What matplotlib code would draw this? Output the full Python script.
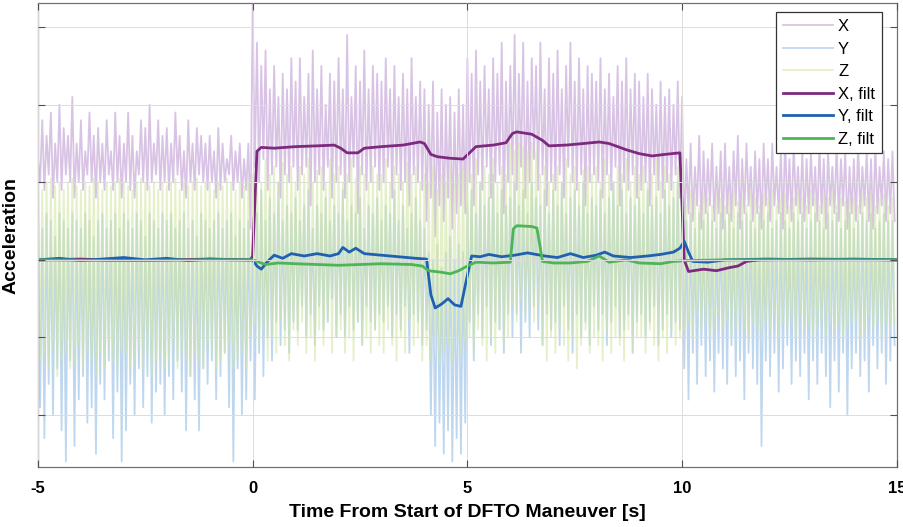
import numpy as np
import matplotlib
matplotlib.use("Agg")
import matplotlib.pyplot as plt

plt.rcParams['font.family'] = ['Liberation Sans', 'DejaVu Sans']
plt.rcParams['axes.unicode_minus'] = False

# raw samples: one peak and one trough per 0.1 s, from -5 s to 15 s (rows = 1 s)
x_hi = [1.3, 1.8, 1.6, 1.9, 1.5, 2.0, 1.7, 1.6, 2.1, 1.5,
        1.8, 1.4, 1.9, 1.6, 1.7, 1.5, 1.8, 1.4, 1.9, 1.6,
        1.5, 1.9, 1.6, 1.4, 1.8, 1.7, 2.0, 1.5, 1.8, 1.6,
        1.7, 1.5, 1.9, 1.6, 1.4, 1.8, 1.5, 1.7, 1.6, 1.5,
        1.6, 1.4, 1.7, 1.5, 1.3, 1.6, 1.4, 1.5, 1.3, 1.5,
        3.3, 2.8, 2.5, 2.7, 2.2, 2.5, 2.1, 2.4, 2.2, 2.6,
        2.3, 2.6, 2.1, 2.4, 2.7, 2.2, 2.5, 2.0, 2.4, 2.3,
        2.6, 2.2, 2.9, 2.1, 2.5, 2.3, 2.7, 2.2, 2.5, 2.4,
        2.3, 2.6, 2.2, 2.5, 2.1, 2.4, 2.2, 2.6, 2.1, 2.3,
        2.2, 2.0, 2.3, 1.9, 2.2, 2.0, 2.1, 1.9, 2.2, 2.0,
        2.6, 2.4, 2.7, 2.3, 2.5, 2.2, 2.6, 2.4, 2.8, 2.3,
        2.5, 2.9, 2.4, 2.8, 2.3, 2.6, 2.5, 2.8, 2.2, 2.6,
        2.4, 2.7, 2.2, 2.5, 2.8, 2.3, 2.6, 2.2, 2.5, 2.4,
        2.3, 2.6, 2.2, 2.4, 2.1, 2.5, 2.3, 2.6, 2.2, 2.4,
        2.3, 2.1, 2.4, 2.2, 2.0, 2.3, 2.1, 2.2, 2.0, 2.3,
        2.1, 1.3, 1.5, 1.2, 1.6, 1.4, 1.3, 1.5, 1.2, 1.4,
        1.5, 1.2, 1.4, 1.6, 1.3, 1.5, 1.2, 1.4, 1.3, 1.5,
        1.3, 1.5, 1.2, 1.4, 1.6, 1.3, 1.5, 1.2, 1.4, 1.3,
        1.4, 1.2, 1.5, 1.3, 1.4, 1.2, 1.5, 1.3, 1.4, 1.2,
        1.3, 1.5, 1.2, 1.4, 1.3, 1.5, 1.2, 1.4, 1.3, 1.4]
x_lo = [1.0, 0.9, 1.1, 0.8, 1.0, 0.9, 1.1, 1.0, 0.8, 1.0,
        0.9, 1.1, 1.0, 0.8, 1.0, 0.9, 1.1, 0.9, 1.0, 0.8,
        1.0, 0.9, 0.8, 1.1, 1.0, 0.9, 1.0, 1.1, 0.9, 1.0,
        0.9, 1.0, 1.1, 0.9, 0.8, 1.0, 0.9, 1.1, 1.0, 0.9,
        1.0, 0.8, 0.9, 1.0, 1.1, 0.9, 1.0, 0.8, 0.9, 0.4,
        1.2, 1.0, 1.3, 0.9, 1.1, 1.2, 0.8, 1.1, 1.0, 1.2,
        0.9, 1.1, 1.2, 0.7, 1.0, 1.1, 0.9, 1.2, 0.8, 1.0,
        1.1, 0.8, 1.0, 1.2, 0.6, 1.1, 0.9, 1.0, 1.2, 0.9,
        1.0, 1.2, 0.8, 1.1, 0.9, 1.0, 0.7, 1.1, 1.0, 0.9,
        0.5, 0.8, 0.3, 0.7, 0.5, 0.8, 0.4, 0.6, 0.7, 0.6,
        1.0, 0.7, 1.1, 0.9, 1.2, 0.8, 1.0, 1.1, 0.6, 1.0,
        1.1, 0.9, 1.2, 0.8, 1.0, 1.3, 0.9, 1.1, 0.7, 1.0,
        0.9, 1.1, 0.8, 1.2, 1.0, 0.9, 1.1, 0.7, 1.0, 1.1,
        1.0, 0.8, 1.1, 0.9, 1.2, 0.7, 1.0, 0.9, 1.1, 0.8,
        0.9, 1.0, 0.7, 1.1, 0.9, 0.8, 1.0, 0.9, 1.1, 0.8,
        0.3, 0.6, 0.5, 0.7, 0.4, 0.6, 0.7, 0.5, 0.6, 0.4,
        0.6, 0.5, 0.7, 0.4, 0.6, 0.7, 0.5, 0.6, 0.4, 0.7,
        0.5, 0.7, 0.6, 0.4, 0.6, 0.5, 0.7, 0.6, 0.5, 0.6,
        0.7, 0.5, 0.6, 0.4, 0.7, 0.6, 0.5, 0.7, 0.4, 0.6,
        0.5, 0.6, 0.7, 0.5, 0.4, 0.6, 0.7, 0.5, 0.6, 0.5]

y_hi = [0.5, 0.4, 0.6, 0.5, 0.3, 0.6, 0.5, 0.4, 0.6, 0.5,
        0.4, 0.6, 0.5, 0.3, 0.5, 0.6, 0.4, 0.5, 0.6, 0.4,
        0.6, 0.5, 0.4, 0.6, 0.5, 0.3, 0.6, 0.5, 0.4, 0.6,
        0.5, 0.6, 0.4, 0.5, 0.6, 0.4, 0.5, 0.3, 0.6, 0.5,
        0.4, 0.5, 0.6, 0.4, 0.5, 0.6, 0.3, 0.5, 0.4, 0.5,
        0.2, 0.6, 0.9, 0.5, 0.8, 0.6, 1.0, 0.5, 0.7, 0.6,
        0.8, 0.5, 0.7, 0.9, 0.4, 0.7, 0.6, 0.8, 0.5, 0.7,
        0.6, 0.9, 0.5, 0.7, 0.6, 0.8, 0.4, 0.7, 0.6, 0.8,
        0.5, 0.7, 0.6, 0.9, 0.5, 0.7, 0.4, 0.6, 0.8, 0.5,
        0.4, 0.1, 0.0, 0.2, -0.1, 0.1, 0.3, 0.0, 0.2, 0.1,
        0.7, 0.9, 0.6, 1.0, 0.7, 0.8, 1.1, 0.6, 0.9, 0.7,
        0.8, 1.0, 0.7, 0.9, 0.6, 1.0, 0.8, 0.7, 0.9, 0.6,
        0.9, 0.7, 1.0, 0.6, 0.8, 0.9, 0.7, 1.0, 0.6, 0.8,
        0.7, 0.9, 0.6, 0.8, 1.0, 0.7, 0.9, 0.6, 0.8, 0.7,
        0.8, 0.6, 0.9, 0.7, 0.8, 0.6, 0.9, 0.7, 0.8, 1.0,
        0.6, 0.5, 0.6, 0.4, 0.6, 0.5, 0.6, 0.5, 0.4, 0.6,
        0.5, 0.6, 0.4, 0.6, 0.5, 0.6, 0.5, 0.4, 0.6, 0.5,
        0.6, 0.4, 0.5, 0.6, 0.5, 0.4, 0.6, 0.5, 0.6, 0.4,
        0.5, 0.6, 0.5, 0.4, 0.6, 0.5, 0.6, 0.4, 0.5, 0.6,
        0.4, 0.5, 0.6, 0.5, 0.6, 0.4, 0.5, 0.6, 0.5, 0.5]
y_lo = [-1.9, -2.3, -1.6, -2.0, -1.4, -2.2, -2.6, -1.3, -2.4, -1.8,
        -1.5, -2.1, -1.9, -2.5, -1.6, -1.8, -1.3, -2.3, -1.7, -2.6,
        -2.2, -1.6, -2.0, -1.4, -1.9, -1.5, -2.1, -1.7, -1.6, -2.0,
        -1.5, -1.8, -1.3, -1.7, -2.2, -1.5, -1.8, -2.2, -1.4, -1.6,
        -1.3, -1.8, -1.5, -1.2, -1.9, -2.6, -1.4, -2.0, -1.8, -1.3,
        -1.8, -1.2, -1.5, -1.0, -1.3, -0.8, -1.1, -0.9, -1.2, -0.8,
        -0.9, -0.6, -1.0, -0.7, -1.1, -0.6, -0.9, -0.8, -0.5, -1.0,
        -0.7, -1.0, -0.6, -0.9, -0.8, -1.1, -0.6, -0.8, -0.9, -0.7,
        -0.8, -0.6, -1.0, -0.7, -0.9, -0.6, -1.2, -0.7, -0.8, -1.1,
        -0.9, -2.0, -2.4, -2.1, -2.5, -2.2, -2.6, -2.3, -2.5, -2.1,
        -0.8, -1.3, -0.7, -1.0, -0.6, -1.1, -0.8, -0.9, -1.2, -0.7,
        -1.0, -0.7, -1.2, -0.8, -1.0, -0.6, -0.9, -1.1, -0.7, -0.9,
        -0.8, -1.1, -0.6, -0.9, -1.2, -0.7, -1.0, -0.8, -1.1, -0.6,
        -0.9, -0.7, -1.1, -0.8, -0.6, -1.0, -0.9, -0.7, -1.2, -0.8,
        -0.7, -1.0, -0.8, -0.6, -1.1, -0.9, -0.7, -1.0, -0.8, -0.9,
        -1.4, -1.8, -1.2, -1.6, -1.1, -1.5, -1.3, -1.7, -1.2, -1.4,
        -1.6, -1.1, -1.5, -1.3, -1.8, -1.2, -1.4, -1.6, -2.4, -1.3,
        -1.5, -1.2, -1.7, -1.4, -1.1, -1.6, -1.3, -1.5, -1.2, -1.8,
        -1.3, -1.6, -1.2, -1.5, -1.9, -1.3, -1.7, -1.2, -2.0, -1.4,
        -1.2, -1.5, -1.3, -1.7, -1.1, -1.4, -1.2, -1.6, -1.3, -1.1]

z_hi = [1.0, 0.9, 1.0, 1.05, 0.95, 1.0, 0.9, 1.0, 1.05, 0.95,
        0.9, 1.0, 0.95, 1.05, 1.0, 0.9, 1.0, 0.95, 1.0, 1.05,
        1.0, 0.95, 0.9, 1.0, 1.05, 1.0, 0.95, 1.0, 0.9, 1.0,
        0.95, 1.0, 1.05, 0.9, 1.0, 0.95, 1.0, 1.05, 0.95, 1.0,
        1.0, 0.9, 1.0, 0.95, 1.05, 1.0, 0.9, 1.0, 0.95, 1.0,
        1.1, 1.2, 1.0, 1.3, 1.1, 1.2, 1.0, 1.25, 1.1, 1.2,
        1.0, 1.2, 1.1, 1.3, 1.0, 1.15, 1.2, 1.0, 1.3, 1.1,
        1.2, 1.0, 1.1, 1.3, 1.05, 1.2, 1.1, 1.0, 1.2, 1.1,
        1.1, 1.3, 1.0, 1.2, 1.1, 1.0, 1.25, 1.1, 1.2, 1.0,
        1.1, 1.0, 1.2, 0.9, 1.1, 1.0, 1.2, 1.0, 1.1, 1.2,
        1.2, 1.1, 1.3, 1.0, 1.2, 1.1, 1.3, 1.0, 1.2, 1.1,
        1.5, 1.4, 1.5, 1.45, 1.4, 1.5, 1.4, 1.1, 1.2, 1.0,
        1.1, 1.2, 1.0, 1.3, 1.1, 1.2, 1.0, 1.15, 1.2, 1.1,
        1.2, 1.0, 1.3, 1.1, 1.0, 1.2, 1.1, 1.3, 1.0, 1.2,
        1.1, 1.2, 1.0, 1.1, 1.3, 1.0, 1.2, 1.1, 1.0, 1.2,
        0.8, 0.7, 0.9, 0.8, 0.7, 0.85, 0.8, 0.7, 0.9, 0.8,
        0.7, 0.8, 0.9, 0.75, 0.8, 0.7, 0.9, 0.8, 0.7, 0.85,
        0.8, 0.9, 0.7, 0.8, 0.85, 0.7, 0.8, 0.9, 0.8, 0.7,
        0.9, 0.8, 0.7, 0.85, 0.8, 0.9, 0.7, 0.8, 0.75, 0.8,
        0.8, 0.7, 0.85, 0.8, 0.9, 0.7, 0.8, 0.85, 0.7, 0.8]
z_lo = [-1.3, -1.2, -1.4, -1.1, -1.5, -1.3, -1.2, -1.4, -1.3, -1.1,
        -1.4, -1.2, -1.3, -1.5, -1.2, -1.4, -1.1, -1.3, -1.4, -1.2,
        -1.2, -1.4, -1.3, -1.1, -1.4, -1.2, -1.5, -1.3, -1.2, -1.4,
        -1.3, -1.1, -1.4, -1.2, -1.3, -1.5, -1.2, -1.3, -1.4, -1.1,
        -1.2, -1.4, -1.3, -1.2, -1.1, -1.4, -1.3, -1.2, -1.4, -1.0,
        -0.8, -1.1, -0.9, -1.3, -1.0, -1.2, -0.8, -1.1, -1.3, -0.9,
        -1.1, -0.8, -1.2, -1.0, -1.3, -0.9, -1.1, -0.8, -1.2, -1.0,
        -0.9, -1.2, -1.0, -1.3, -0.8, -1.1, -1.0, -1.2, -0.9, -1.1,
        -1.2, -0.9, -1.1, -1.3, -1.0, -1.2, -0.8, -1.1, -1.0, -1.3,
        -1.1, -1.3, -1.0, -1.35, -1.2, -1.1, -1.3, -1.0, -1.2, -1.1,
        -1.0, -1.2, -0.9, -1.1, -1.3, -1.0, -1.2, -0.9, -1.1, -1.0,
        -0.6, -0.8, -0.5, -0.7, -0.6, -0.8, -0.6, -1.1, -1.3, -1.0,
        -1.2, -0.9, -1.1, -1.3, -1.0, -1.4, -1.1, -0.9, -1.2, -1.0,
        -1.1, -1.3, -0.9, -1.2, -1.0, -1.1, -1.3, -0.9, -1.2, -1.0,
        -1.0, -1.2, -0.9, -1.1, -1.3, -1.0, -1.2, -0.9, -1.1, -1.0,
        -0.9, -0.8, -1.0, -0.7, -0.9, -0.8, -1.0, -0.9, -0.7, -0.9,
        -0.8, -1.0, -0.9, -0.7, -0.9, -1.0, -0.8, -0.9, -1.0, -0.8,
        -0.9, -0.7, -1.0, -0.8, -0.9, -0.8, -1.0, -0.7, -0.9, -0.8,
        -1.0, -0.9, -0.8, -1.0, -0.7, -0.9, -0.8, -1.0, -0.9, -0.8,
        -0.8, -1.0, -0.9, -0.7, -0.9, -0.8, -1.0, -0.8, -0.9, -0.8]

# filtered signals, read as (time, value) breakpoints
xf_t = [-5, -4, -3, -2, -1, -0.05, 0.0, 0.1, 0.2, 0.5, 1.0, 1.5, 1.9, 2.05, 2.2, 2.45, 2.6, 3.0,
        3.5, 3.9, 4.0, 4.15, 4.3, 4.6, 4.9, 5.05, 5.2, 5.6, 5.9, 6.05, 6.15, 6.5, 6.75, 6.9,
        7.3, 7.7, 8.07, 8.3, 8.7, 9.0, 9.3, 9.6, 9.95, 10.05, 10.15, 10.5, 10.8, 11.1, 11.3,
        11.5, 11.8, 13, 15]
xf_v = [0.0, 0.01, -0.01, 0.0, 0.01, 0.0, 0.05, 1.40, 1.45, 1.44, 1.46, 1.47, 1.48, 1.44, 1.38, 1.38,
        1.44, 1.46, 1.48, 1.52, 1.50, 1.36, 1.33, 1.31, 1.30, 1.38, 1.46, 1.48, 1.51, 1.63, 1.65,
        1.62, 1.54, 1.47, 1.48, 1.50, 1.52, 1.50, 1.42, 1.37, 1.34, 1.36, 1.38, 0.0, -0.15, -0.12,
        -0.14, -0.10, -0.08, -0.02, 0.0, 0.01, 0.0]

yf_t = [-5, -4.5, -4, -3.5, -3, -2.5, -2, -1.5, -1, -0.5, 0.0, 0.1, 0.2, 0.35, 0.5, 0.7, 0.9,
        1.2, 1.5, 1.8, 2.0, 2.1, 2.25, 2.4, 2.6, 3.0, 3.4, 3.8, 4.05, 4.15, 4.25, 4.4, 4.55,
        4.7, 4.85, 5.0, 5.1, 5.3, 5.5, 5.8, 6.1, 6.4, 6.8, 7.1, 7.4, 7.7, 8.0, 8.2, 8.4, 8.8,
        9.2, 9.5, 9.8, 9.95, 10.05, 10.15, 10.25, 10.6, 11, 12, 13, 14, 15]
yf_v = [0.0, 0.02, -0.01, 0.01, 0.03, 0.0, 0.02, -0.01, 0.01, 0.0, 0.0, -0.08, -0.12, -0.02,
        0.06, 0.02, 0.08, 0.05, 0.08, 0.05, 0.08, 0.16, 0.10, 0.15, 0.08, 0.06, 0.04, 0.02, 0.01,
        -0.45, -0.62, -0.57, -0.50, -0.58, -0.60, -0.2, 0.05, 0.04, 0.07, 0.04, 0.06, 0.09, 0.05,
        0.03, 0.08, 0.03, 0.06, 0.10, 0.05, 0.03, 0.05, 0.07, 0.10, 0.15, 0.24, 0.10, -0.02,
        -0.03, 0.0, 0.01, 0.0, 0.01, 0.0]

zf_t = [-5, -3, -1, 0.0, 0.1, 0.3, 0.6, 1.0, 2.0, 3.0, 3.7, 3.95, 4.1, 4.4, 4.6, 4.8, 5.0, 5.2,
        5.6, 6.0, 6.07, 6.15, 6.5, 6.62, 6.75, 7.0, 7.4, 7.8, 8.07, 8.3, 8.7, 9.0, 9.5, 9.8,
        10.1, 11, 15]
zf_v = [0.0, -0.01, 0.0, 0.0, -0.02, -0.06, -0.04, -0.05, -0.07, -0.05, -0.06, -0.08, -0.14,
        -0.16, -0.18, -0.14, -0.08, -0.03, -0.04, -0.03, 0.40, 0.44, 0.43, 0.41, -0.02, -0.04,
        -0.04, -0.02, 0.05, -0.03, 0.0, -0.04, -0.05, -0.02, -0.01, 0.0, 0.0]

# sample times of the raw peaks and troughs
t_pk = np.linspace(-5, 14.9, 200)
t_raw = np.empty(400)
t_raw[0::2] = t_pk
t_raw[1::2] = t_pk + 0.05


def zigzag(hi, lo):
    v = np.empty(400)
    v[0::2] = hi
    v[1::2] = lo
    return v


fig = plt.figure(figsize=(9.04, 5.27), dpi=100)
ax = fig.add_axes([0.042, 0.114, 0.950, 0.880])

ax.plot(t_raw, zigzag(x_hi, x_lo), color='#b488cc', lw=1.3, alpha=0.5, label='X')
ax.plot(t_raw, zigzag(y_hi, y_lo), color='#7fb0de', lw=1.3, alpha=0.5, label='Y')
ax.plot(t_raw, zigzag(z_hi, z_lo), color='#d2e6a4', lw=1.3, alpha=0.6, label='Z')
ax.plot(xf_t, xf_v, color='#7d2a7e', lw=2.0, label='X, filt')
ax.plot(yf_t, yf_v, color='#1f60b0', lw=2.0, label='Y, filt')
ax.plot(zf_t, zf_v, color='#4cb556', lw=2.0, label='Z, filt')

ax.set_xlim(-5, 15)
ax.set_ylim(-2.67, 3.31)
ax.set_xticks([-5, 0, 5, 10, 15])
ax.set_yticks([-2, -1, 0, 1, 2, 3])
ax.set_yticklabels([])
ax.tick_params(direction='in', top=True, right=True, length=5, width=0.8,
               color='#505050', labelsize=12, pad=10)
for lab in ax.get_xticklabels():
    lab.set_fontweight('bold')
ax.grid(True, color='#dcdcdc', lw=0.7)
ax.set_axisbelow(False)
for s in ax.spines.values():
    s.set_color('#707070')
    s.set_linewidth(0.9)

ax.set_xlabel('Time From Start of DFTO Maneuver [s]', fontsize=14, fontweight='bold', labelpad=6)
ax.set_ylabel('Acceleration', fontsize=14, fontweight='bold')
ax.yaxis.set_label_coords(-0.021, 0.5)

leg = ax.legend(loc='upper right', bbox_to_anchor=(0.9825, 0.98), fontsize=12, frameon=True,
                fancybox=False, edgecolor='#333333', framealpha=1, handlelength=3.0,
                labelspacing=0.45, borderpad=0.4, handletextpad=0.3, borderaxespad=0)
leg.get_frame().set_linewidth(0.9)

fig.savefig('out.png', dpi=100)
